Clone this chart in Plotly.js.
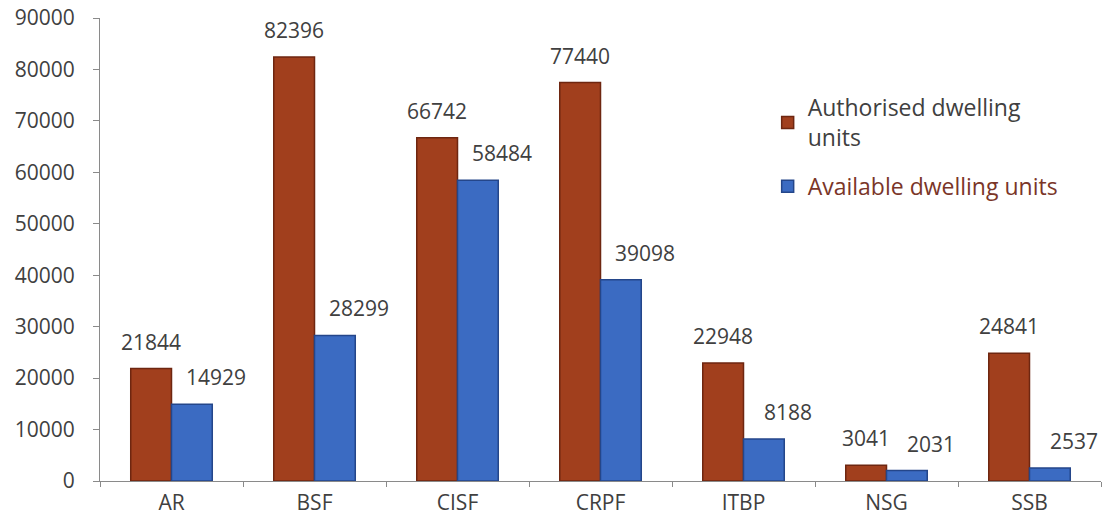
<!DOCTYPE html>
<html>
<head>
<meta charset="utf-8">
<script src="https://cdn.plot.ly/plotly-3.0.1.min.js"></script>
<style>html,body{margin:0;padding:0;background:#fff;}#chart{width:1109px;height:527px;}</style>
</head>
<body>
<div id="chart"></div>
<script>
const categories = ["AR", "BSF", "CISF", "CRPF", "ITBP", "NSG", "SSB"];
const authorised = [21844, 82396, 66742, 77440, 22948, 3041, 24841];
const available = [14929, 28299, 58484, 39098, 8188, 2031, 2537];
const seriesNames = ["Authorised dwelling<br>units", "<span style=\"color:#7a3528\">Available dwelling units</span>"];
const yTicks = [0, 10000, 20000, 30000, 40000, 50000, 60000, 70000, 80000, 90000];

const font = "'Open Sans', Lato, sans-serif";
const traces = [
  {
    type: "bar", name: seriesNames[0], x: categories, y: authorised, legendgroup: "a",
    marker: {color: "#a13f1d", line: {color: "#6e2610", width: 1.5}}
  },
  {
    type: "bar", name: seriesNames[1], x: categories, y: available, legendgroup: "b",
    marker: {color: "#3b6bc2", line: {color: "#24468a", width: 1.5}}
  }
];
const labelFont = {family: font, size: 21, color: "#404040"};
const annotations = [];
categories.forEach((c, i) => {
  annotations.push({x: c, y: authorised[i], text: String(authorised[i]), showarrow: false,
    xref: "x", yref: "y", xanchor: "center", yanchor: "bottom", xshift: -20.5, yshift: 11, font: labelFont});
  annotations.push({x: c, y: available[i], text: String(available[i]), showarrow: false,
    xref: "x", yref: "y", xanchor: "center", yanchor: "bottom", xshift: 44, yshift: 11, font: labelFont});
});
const layout = {
  width: 1109, height: 527,
  margin: {l: 100, r: 8, t: 18, b: 46},
  paper_bgcolor: "#fff", plot_bgcolor: "#fff",
  font: {family: font, size: 21, color: "#404040"},
  bargap: 0.43, bargroupgap: 0,
  showlegend: true,
  annotations: annotations,
  legend: {x: 0.667, y: 0.853, xanchor: "left", yanchor: "top", bgcolor: "rgba(0,0,0,0)",
           traceorder: "grouped", tracegroupgap: 16,
           font: {family: font, size: 23, color: "#404040"}, itemwidth: 30},
  xaxis: {type: "category", showline: true, linecolor: "#8a8a8a", linewidth: 1,
          ticks: "outside", tickson: "boundaries", ticklen: 5, tickcolor: "#8a8a8a",
          showgrid: false, tickfont: {size: 21, color: "#404040"}, ticklabelstandoff: 3},
  yaxis: {range: [0, 90000], tickvals: yTicks, ticktext: yTicks.map(String),
          showline: true, linecolor: "#8a8a8a", linewidth: 1, ticks: "outside", ticklen: 6,
          tickcolor: "#8a8a8a", showgrid: false, zeroline: false,
          tickfont: {size: 21, color: "#404040"}, ticklabelstandoff: 14}
};
Plotly.newPlot("chart", traces, layout, {displayModeBar: false, staticPlot: true});
</script>
</body>
</html>
